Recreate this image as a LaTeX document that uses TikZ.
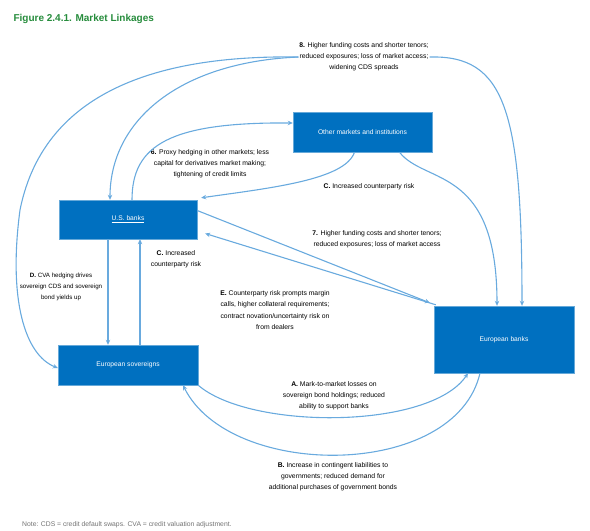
\documentclass[tikz,border=0pt]{standalone}
\usepackage{fontspec}
\setmainfont{Liberation Sans}
\usetikzlibrary{arrows.meta,calc}
\definecolor{boxblue}{RGB}{0,112,192}
\definecolor{linkblue}{RGB}{105,170,222}
\definecolor{titlegreen}{RGB}{38,140,60}

\begin{document}
\begin{tikzpicture}[x=1pt,y=1pt,yscale=-1,xscale=1,
    market/.style={fill=boxblue,draw=boxblue!60!white,text=white,inner sep=0pt,font=\fontsize{6.7}{8}\selectfont},
    lbl/.style={align=center,inner sep=0.75pt,font=\fontsize{6.8}{11.2}\selectfont},
    link/.style={draw=linkblue,line width=1.1pt,-{Stealth[length=5pt,width=4.5pt]}}]
        \useasboundingbox (0,0) rectangle (590,531);

        % Title
        \node [anchor=west,text=titlegreen,font=\bfseries\fontsize{10}{12}\selectfont] (title) at (10,19) {Figure 2.4.1. Market Linkages};

        %Shape: Boxes
        \node [market,minimum width=139pt,minimum height=40pt] (other) at (362.5,132) {Other markets and institutions};
        \node [market,minimum width=138pt,minimum height=39pt] (usbox) at (128,219.5) {\underline{U.S. banks}};
        \node [market,minimum width=140pt,minimum height=40pt] (sovbox) at (128,365) {European sovereigns};
        \node [market,minimum width=140pt,minimum height=67pt] (eubox) at (504,339.5) {European banks};

        % Text Node
        \node [lbl] (l8) at (364,57) {\textbf{8.} Higher funding costs and shorter tenors;\\reduced exposures; loss of market access;\\widening CDS spreads};
        % Text Node
        \node [lbl] (l6) at (210,164) {\textbf{6.} Proxy hedging in other markets; less\\capital for derivatives market making;\\tightening of credit limits};
        % Text Node
        \node [lbl] (lc1) at (369,187) {\textbf{C.} Increased counterparty risk};
        % Text Node
        \node [lbl] (l7) at (377,239) {\textbf{7.} Higher funding costs and shorter tenors;\\reduced exposures; loss of market access};
        % Text Node
        \node [lbl] (lc2) at (176,259) {\textbf{C.} Increased\\counterparty risk};
        % Text Node
        \node [lbl,font=\fontsize{6.2}{11.2}\selectfont] (ld) at (61,287) {\textbf{D.} CVA hedging drives\\sovereign CDS and sovereign\\bond yields up};
        % Text Node
        \node [lbl] (le) at (275,310) {\textbf{E.} Counterparty risk prompts margin\\calls, higher collateral requirements;\\contract novation/uncertainty risk on\\from dealers};
        % Text Node
        \node [lbl] (la) at (334,396) {\textbf{A.} Mark-to-market losses on\\sovereign bond holdings; reduced\\ability to support banks};
        % Text Node
        \node [lbl] (lb) at (333,477) {\textbf{B.} Increase in contingent liabilities to\\governments; reduced demand for\\additional purchases of government bonds};

        % Note
        \node [anchor=west,inner sep=0pt,text=black!55,font=\fontsize{6.8}{8}\selectfont] (note) at (22,525) {Note: CDS = credit default swaps. CVA = credit valuation adjustment.};

        %Curves from 8
        \draw [link] (l8.west) .. controls (170,55) and (45,85) .. (20,210) .. controls (8,300) and (25,355) .. ($(sovbox.west)+(0,3)$);
        \draw [link] (l8.west) .. controls (180,62) and (110,120) .. ($(usbox.north)+(-18,0)$);
        \draw [link] (l8.east) .. controls (505,55) and (522,110) .. ($(eubox.north)+(18,0)$);

        %Curves round other markets
        \draw [link] ($(usbox.north)+(4,0)$) .. controls (132,145) and (170,122) .. ($(other.west)+(0,-9)$);
        \draw [link] ($(other.south)+(-8,0)$) .. controls (345,180) and (270,188) .. ($(usbox.north east)+(4,-2)$);
        \draw [link] ($(other.south)+(37,0)$) .. controls (425,185) and (497,165) .. ($(eubox.north)+(-7,0)$);

        %Straight Lines
        \draw [link] ($(usbox.east)+(0,-9)$) -- ($(eubox.north west)+(-4,-3)$);
        \draw [link] ($(eubox.north west)+(2,-1)$) -- ($(usbox.east)+(8,14)$);
        \draw [link] ($(usbox.south)+(-20,0)$) -- ($(sovbox.north)+(-20,0)$);
        \draw [link] ($(sovbox.north)+(12,0)$) -- ($(usbox.south)+(12,0)$);

        %Curves at the bottom
        \draw [link] (sovbox.south east) .. controls (250,430) and (430,430) .. ($(eubox.south)+(-36,0)$);
        \draw [link] ($(eubox.south)+(-24,0)$) .. controls (455,480) and (230,480) .. ($(sovbox.south)+(55,0)$);
\end{tikzpicture}
\end{document}
